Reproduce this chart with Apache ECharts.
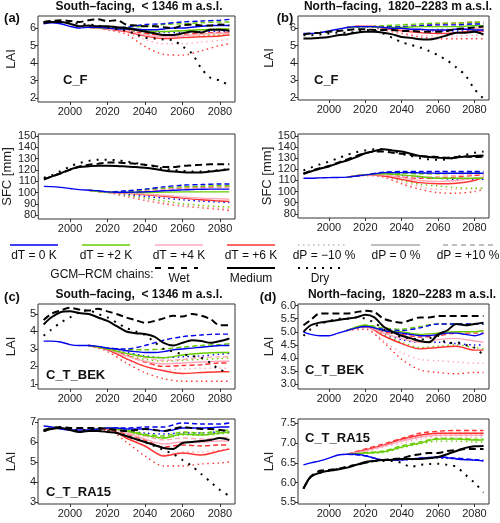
<!DOCTYPE html>
<html><head><meta charset="utf-8">
<script src="https://cdn.jsdelivr.net/npm/echarts@6/dist/echarts.min.js"></script>
<style>html,body{margin:0;padding:0;background:#fff}#c{width:500px;height:523px}</style>
</head><body><div id="c"></div>
<script>
// years
const years = [1986,1990,1995,2000,2005,2010,2015,2020,2025,2030,2035,2040,2045,2050,2055,2060,2065,2070,2075,2080,2085];
const futYears = [2010,2020,2030,2040,2050,2060,2070,2080,2085];
const xTicks = [2000,2020,2040,2060,2080];

// ---- panel a, LAI (C_F, south)
const a1_wet = [6.35,6.4,6.45,6.4,6.35,6.45,6.5,6.4,6.45,6.2,6.15,6.1,6.1,6.05,6.0,6.15,6.2,6.15,6.15,6.2,6.15];
const a1_med = [6.3,6.35,6.35,6.25,6.1,6.15,6.1,6.1,6.05,6.0,5.9,5.8,5.7,5.6,5.6,5.7,5.8,5.75,5.9,5.9,5.85];
const a1_dry = [6.3,6.35,6.35,6.3,6.25,6.2,6.15,6.05,5.95,5.85,5.65,5.45,5.4,5.35,5.3,4.95,4.55,3.7,3.15,3.0,2.7];
const a1_T0P0 = [6.25,6.3,6.25,6.1,6.0,6.05,6.05,6.0,5.95,5.95,5.95,5.9,5.9,5.95,6.0,6.0,6.05,6.1,6.15,6.15,6.15];
const a1_T0Pp = [6.05,6.0,6.05,6.2,6.25,6.35,6.4,6.45,6.5];
const a1_T0Pm = [6.05,6.0,5.9,5.8,5.75,5.75,5.8,5.8,5.8];
const a1_T2P0 = [6.05,6.0,5.95,5.85,5.8,5.85,5.9,5.95,5.95];
const a1_T2Pp = [6.05,6.0,6.05,6.1,6.2,6.25,6.3,6.35,6.35];
const a1_T2Pm = [6.05,6.0,5.85,5.65,5.6,5.55,5.6,5.6,5.6];
const a1_T4P0 = [6.05,5.95,5.85,5.6,5.5,5.55,5.65,5.7,5.7];
const a1_T4Pp = [6.05,6.0,5.95,5.8,5.8,5.85,5.9,5.95,5.95];
const a1_T4Pm = [6.05,5.95,5.75,5.35,5.1,5.1,5.2,5.3,5.35];
const a1_T6P0 = [6.05,5.95,5.8,5.55,5.4,5.45,5.5,5.55,5.6];
const a1_T6Pp = [6.05,5.95,5.85,5.7,5.6,5.65,5.7,5.75,5.75];
const a1_T6Pm = [6.05,5.9,5.65,4.95,4.5,4.45,4.7,5.0,5.1];

// ---- panel a, SFC
const a2_wet = [112,114,117,120,123,124.5,125.5,126.5,126.5,126,125.5,124.5,123.5,122.5,122.5,123.5,124,124.5,125,125,125];
const a2_med = [111.5,114,117,120.5,122.5,123.2,123.7,123.7,123.5,123,122.5,121.8,120.8,119.5,118.5,118,117.8,117.8,118.5,119.5,120.5];
const a2_dry = [113,115,119,123,126,128,129,129,128.5,127.5,126,124.5,123,121,120,119,118.5,118.5,119,120,120.5];
const a2_T0P0 = [105.4,105.2,104.5,103.5,102.5,102,101.5,100.5,100.2,100.2,100.3,100.6,101,101.5,102,102.3,102.6,102.8,103,103,103];
const a2_T0Pp = [102,100.5,101.5,103,105,106.5,107,107.5,107.5];
const a2_T0Pm = [102,100.3,98.5,96.5,95,93.5,92.3,91.5,91];
const a2_T2P0 = [102,100.3,100,100,100.3,100.5,100.5,100.5,100.5];
const a2_T2Pp = [102,100.4,101,102.5,104,105,105.5,106,106];
const a2_T2Pm = [102,100,97.5,95,92.5,90,88.5,87.5,87];
const a2_T4P0 = [102,100.2,99.5,98.5,97.5,96,95,94.5,94];
const a2_T4Pp = [102,100.3,100.5,101.5,103,104.5,105,105.5,105.5];
const a2_T4Pm = [102,100,97,93.5,91,88.5,87,86,85.5];
const a2_T6P0 = [102,100.2,99.3,98,96.5,95,93.5,92.5,92];
const a2_T6Pp = [102,100.3,100.5,101.5,103,104,104.5,105,105];
const a2_T6Pm = [102,100,96.5,93,90,88,86.5,85,84];

// ---- panel b, LAI (C_F, north)
const b1_wet = [5.65,5.7,5.75,5.8,5.85,5.9,5.95,5.95,5.9,5.9,5.9,5.85,5.85,5.8,5.8,5.8,5.85,5.95,6.0,6.05,6.1];
const b1_med = [5.42,5.42,5.45,5.5,5.6,5.65,5.75,5.8,5.8,5.75,5.65,5.5,5.45,5.37,5.35,5.45,5.6,5.75,5.75,5.8,5.65];
const b1_dry = [5.6,5.6,5.65,5.7,5.75,5.75,5.8,5.9,5.85,5.7,5.45,5.2,5.05,4.9,4.7,4.45,4.15,3.75,3.3,2.5,1.95];
const b1_T0P0 = [5.7,5.7,5.75,5.85,5.95,6.05,6.1,6.1,6.1,6.05,6.0,6.0,5.95,5.95,5.9,5.9,5.9,5.95,5.95,5.9,5.9];
const b1_T0Pp = [6.05,6.1,6.1,6.1,6.15,6.2,6.2,6.25,6.25];
const b1_T0Pm = [6.05,6.1,6.0,5.95,5.9,5.85,5.85,5.85,5.85];
const b1_T2P0 = [6.05,6.1,6.05,6.05,6.1,6.1,6.1,6.15,6.15];
const b1_T2Pp = [6.05,6.1,6.15,6.2,6.25,6.3,6.3,6.35,6.35];
const b1_T2Pm = [6.05,6.1,6.0,5.95,5.9,5.95,5.95,5.95,5.95];
const b1_T4P0 = [6.05,6.15,6.05,5.95,5.9,5.9,5.95,6.0,6.0];
const b1_T4Pp = [6.05,6.15,6.1,6.1,6.15,6.2,6.25,6.3,6.3];
const b1_T4Pm = [6.05,6.1,5.95,5.75,5.6,5.55,5.55,5.6,5.6];
const b1_T6P0 = [6.05,6.15,6.0,5.85,5.75,5.7,5.75,5.85,5.85];
const b1_T6Pp = [6.05,6.15,6.1,6.1,6.15,6.25,6.3,6.35,6.35];
const b1_T6Pm = [6.05,6.1,5.9,5.7,5.5,5.4,5.4,5.4,5.4];

// ---- panel b, SFC
const b2_wet = [116,118.5,121,123,126,129,132,134.5,136,136,135,134,133,132,131.5,131,130.5,131,131.5,131,131.5];
const b2_med = [116,118,120.5,122.6,125.5,128,131,134.5,136.5,138,137,136,134,132,131,130.5,130,130.5,131.5,132,132.5];
const b2_dry = [119,121.5,124.5,127,130,133,135.5,137,138,138,136.5,134,132,130,129,128.5,129,131,133,135,136];
const b2_T0P0 = [112,112,112.3,112.5,112.7,113,114,115,116,117,117,117,117,116.8,116.7,116.5,116.5,116.5,116.5,116.5,116.5];
const b2_T0Pp = [113,115,117.5,118,118,118,118,118,118];
const b2_T0Pm = [113,115,116,114.5,113,112,111,111,111];
const b2_T2P0 = [113,115,116,115,113.5,112,112,112,112];
const b2_T2Pp = [113,115,116.5,116.5,116,116,116.5,117,117];
const b2_T2Pm = [113,115,114.5,110,106.5,105,103.5,103,103];
const b2_T4P0 = [113,115,115,112.5,110,109,110,112,113];
const b2_T4Pp = [113,115,115.5,114.5,113,113.5,114.5,115.5,116];
const b2_T4Pm = [113,114.5,113.5,108.5,104.5,102,102,102.5,103];
const b2_T6P0 = [113,115,114,111,108,107,107.5,110,113];
const b2_T6Pp = [113,115,115,113,112,112,113,114.5,115];
const b2_T6Pm = [113,114.5,113,107,102,99,98.5,100,102];

// ---- panel c, C_T_BEK
const c1_wet = [4.65,5.0,5.2,5.35,5.25,5.2,5.3,5.15,5.0,4.8,4.65,4.5,4.6,4.75,4.9,4.85,5.0,4.9,4.7,4.35,4.35];
const c1_med = [4.4,4.8,5.1,5.15,5.05,5.0,4.8,4.6,4.3,4.0,3.9,3.85,3.7,3.35,3.2,3.35,3.5,3.45,3.35,3.45,3.6];
const c1_dry = [3.75,4.1,4.5,4.8,5.1,5.2,5.0,4.8,4.5,4.2,4.0,3.8,3.4,3.0,2.85,2.7,2.6,2.5,2.2,1.8,1.7];
const c1_T0P0 = [3.45,3.45,3.4,3.25,3.2,3.2,3.15,3.05,3.0,2.9,2.85,2.8,2.8,2.85,2.95,3.0,3.05,3.1,3.15,3.2,3.2];
const c1_T0Pp = [3.2,3.05,3.0,3.2,3.5,3.7,3.8,3.85,3.85];
const c1_T0Pm = [3.2,3.0,2.8,2.6,2.5,2.55,2.6,2.7,2.75];
const c1_T2P0 = [3.2,3.0,2.75,2.55,2.5,2.65,2.75,2.8,2.8];
const c1_T2Pp = [3.2,3.05,2.95,2.95,3.0,3.1,3.2,3.25,3.3];
const c1_T2Pm = [3.2,3.0,2.65,2.4,2.3,2.35,2.4,2.45,2.5];
const c1_T4P0 = [3.2,3.0,2.6,2.3,2.15,2.2,2.25,2.3,2.3];
const c1_T4Pp = [3.2,3.0,2.75,2.5,2.35,2.4,2.5,2.55,2.55];
const c1_T4Pm = [3.2,2.9,2.4,2.0,1.8,1.85,1.9,1.9,1.9];
const c1_T6P0 = [3.2,2.95,2.45,2.0,1.75,1.6,1.65,1.7,1.7];
const c1_T6Pp = [3.2,3.0,2.65,2.25,2.0,2.05,2.1,2.2,2.2];
const c1_T6Pm = [3.2,2.85,2.2,1.65,1.3,1.15,1.15,1.15,1.15];

// ---- panel c, C_T_RA15
const c2_wet = [6.6,6.7,6.75,6.7,6.7,6.7,6.7,6.65,6.6,6.55,6.6,6.65,6.6,6.55,6.65,6.75,6.7,6.65,6.65,6.6,6.55];
const c2_med = [6.53,6.65,6.7,6.6,6.5,6.55,6.55,6.5,6.45,6.3,6.15,6.0,5.85,5.7,5.65,5.95,6.0,6.05,6.1,6.2,6.1];
const c2_dry = [6.55,6.65,6.7,6.65,6.6,6.6,6.6,6.55,6.45,6.3,6.15,6.0,5.8,5.6,5.4,5.1,4.8,4.4,4.0,3.6,3.3];
const c2_T0P0 = [6.8,6.75,6.65,6.6,6.6,6.6,6.65,6.7,6.7,6.65,6.65,6.65,6.6,6.55,6.6,6.7,6.7,6.7,6.72,6.75,6.75];
const c2_T0Pp = [6.6,6.7,6.7,6.75,6.75,6.95,6.9,6.9,6.95];
const c2_T0Pm = [6.6,6.7,6.55,6.45,6.4,6.45,6.45,6.5,6.5];
const c2_T2P0 = [6.6,6.7,6.55,6.35,6.2,6.4,6.35,6.45,6.5];
const c2_T2Pp = [6.6,6.7,6.6,6.4,6.3,6.5,6.45,6.55,6.6];
const c2_T2Pm = [6.6,6.7,6.5,6.3,6.2,6.35,6.35,6.4,6.45];
const c2_T4P0 = [6.6,6.7,6.45,6.15,5.9,6.0,6.0,6.05,6.05];
const c2_T4Pp = [6.6,6.7,6.5,6.3,6.1,6.2,6.15,6.2,6.25];
const c2_T4Pm = [6.6,6.65,6.3,5.8,5.35,5.5,5.5,5.6,5.65];
const c2_T6P0 = [6.6,6.65,6.2,5.8,5.3,5.45,5.35,5.55,5.65];
const c2_T6Pp = [6.6,6.7,6.4,6.1,5.75,5.85,5.8,5.85,5.85];
const c2_T6Pm = [6.6,6.6,6.0,5.3,4.8,4.8,4.9,4.95,5.0];

// ---- panel d, C_T_BEK
const d1_wet = [5.25,5.45,5.7,5.7,5.7,5.7,5.75,5.8,5.75,5.5,5.4,5.35,5.45,5.55,5.55,5.6,5.6,5.6,5.6,5.6,5.6];
const d1_med = [5.0,5.25,5.35,5.4,5.45,5.5,5.55,5.65,5.55,5.2,5.0,4.85,4.75,4.65,4.6,4.9,5.05,5.3,5.25,5.3,5.35];
const d1_dry = [4.85,5.1,5.3,5.4,5.5,5.5,5.55,5.5,5.35,5.1,4.95,4.8,4.75,4.7,4.75,4.85,4.55,4.6,4.5,4.4,4.1];
const d1_T0P0 = [5.0,4.9,4.85,4.85,4.95,5.05,5.15,5.2,5.15,5.05,5.0,4.95,4.9,4.85,4.85,4.9,4.95,4.95,4.9,4.85,4.95];
const d1_T0Pp = [5.05,5.2,5.1,5.05,5.15,5.3,5.3,5.3,5.3];
const d1_T0Pm = [5.05,5.2,4.95,4.7,4.6,4.6,4.55,4.5,4.5];
const d1_T2P0 = [5.05,5.25,5.05,5.0,4.9,4.95,5.0,5.0,5.05];
const d1_T2Pp = [5.05,5.25,5.15,5.1,5.2,5.3,5.3,5.3,5.3];
const d1_T2Pm = [5.05,5.2,4.9,4.6,4.4,4.45,4.5,4.4,4.35];
const d1_T4P0 = [5.05,5.2,4.95,4.75,4.6,4.7,4.75,4.65,4.6];
const d1_T4Pp = [5.05,5.25,5.05,4.95,4.85,4.95,5.0,5.0,5.0];
const d1_T4Pm = [5.05,5.15,4.65,4.2,3.95,3.9,3.85,3.8,3.8];
const d1_T6P0 = [5.05,5.2,4.85,4.55,4.35,4.4,4.45,4.3,4.3];
const d1_T6Pp = [5.05,5.2,5.0,4.9,4.8,4.85,4.95,4.95,4.95];
const d1_T6Pm = [5.05,5.1,4.6,3.95,3.55,3.45,3.4,3.45,3.45];

// ---- panel d, C_T_RA15
const d2_wet = [5.85,6.15,6.3,6.32,6.35,6.4,6.45,6.5,6.55,6.57,6.6,6.62,6.68,6.72,6.75,6.75,6.8,6.82,6.85,6.85,6.85];
const d2_med = [5.85,6.15,6.25,6.3,6.33,6.38,6.45,6.52,6.55,6.57,6.58,6.6,6.6,6.6,6.62,6.65,6.72,6.8,6.88,6.92,6.93];
const d2_dry = [5.85,6.15,6.25,6.3,6.35,6.4,6.45,6.5,6.55,6.55,6.55,6.5,6.4,6.45,6.47,6.48,6.45,6.4,6.2,6.0,5.75];
const d2_T0P0 = [6.45,6.5,6.55,6.62,6.7,6.72,6.72,6.68,6.62,6.57,6.57,6.58,6.6,6.62,6.63,6.65,6.63,6.6,6.58,6.57,6.55];
const d2_T0Pp = [6.72,6.68,6.58,6.58,6.62,6.65,6.62,6.58,6.57];
const d2_T0Pm = [6.72,6.68,6.57,6.57,6.6,6.62,6.6,6.57,6.55];
const d2_T2P0 = [6.72,6.75,6.78,6.9,7.0,7.1,7.1,7.08,7.08];
const d2_T2Pp = [6.72,6.76,6.8,6.93,7.03,7.12,7.12,7.1,7.1];
const d2_T2Pm = [6.72,6.74,6.76,6.88,6.98,7.05,7.05,7.03,7.03];
const d2_T4P0 = [6.72,6.8,6.92,7.05,7.15,7.2,7.2,7.2,7.2];
const d2_T4Pp = [6.72,6.82,6.95,7.08,7.2,7.25,7.25,7.25,7.25];
const d2_T4Pm = [6.72,6.78,6.9,7.0,7.1,7.15,7.15,7.15,7.15];
const d2_T6P0 = [6.72,6.83,6.95,7.1,7.2,7.25,7.25,7.25,7.25];
const d2_T6Pp = [6.72,6.85,6.98,7.12,7.25,7.3,7.32,7.32,7.32];
const d2_T6Pm = [6.72,6.82,6.93,7.08,7.15,7.2,7.2,7.2,7.2];

// y tick labels
const ticksA1 = [2,3,4,5,6];
const ticksSFC = [80,90,100,110,120,130,140,150];
const ticksC1 = [1,2,3,4,5];
const ticksC2 = [3,4,5,6,7];
const ticksD1 = [3.0,3.5,4.0,4.5,5.0,5.5,6.0];
const ticksD2 = [5.5,6.0,6.5,7.0,7.5];

const FONT = 'Liberation Sans, Arial, sans-serif';
const COL = {T0:'#0000ee', T2:'#66cc00', T4:'#ffaabb', T6:'#ff3333'};

const panels = [
  {g:[38,16,197,86], y:[1.77,6.69], ticks:ticksA1, name:'LAI', gap:20, fmt:null,
   wet:a1_wet, med:a1_med, dry:a1_dry, T0P0:a1_T0P0,
   fut:{T0Pp:a1_T0Pp,T0Pm:a1_T0Pm,T2P0:a1_T2P0,T2Pp:a1_T2Pp,T2Pm:a1_T2Pm,T4P0:a1_T4P0,T4Pp:a1_T4Pp,T4Pm:a1_T4Pm,T6P0:a1_T6P0,T6Pp:a1_T6Pp,T6Pm:a1_T6Pm}},
  {g:[38,134,197,85], y:[76.5,151.8], ticks:ticksSFC, name:'SFC [mm]', gap:24, fmt:null,
   wet:a2_wet, med:a2_med, dry:a2_dry, T0P0:a2_T0P0,
   fut:{T0Pp:a2_T0Pp,T0Pm:a2_T0Pm,T2P0:a2_T2P0,T2Pp:a2_T2Pp,T2Pm:a2_T2Pm,T4P0:a2_T4P0,T4Pp:a2_T4Pp,T4Pm:a2_T4Pm,T6P0:a2_T6P0,T6Pp:a2_T6Pp,T6Pm:a2_T6Pm}},
  {g:[298,16,191,84], y:[1.87,6.71], ticks:ticksA1, name:'LAI', gap:22, fmt:null,
   wet:b1_wet, med:b1_med, dry:b1_dry, T0P0:b1_T0P0,
   fut:{T0Pp:b1_T0Pp,T0Pm:b1_T0Pm,T2P0:b1_T2P0,T2Pp:b1_T2Pp,T2Pm:b1_T2Pm,T4P0:b1_T4P0,T4Pp:b1_T4Pp,T4Pm:b1_T4Pm,T6P0:b1_T6P0,T6Pp:b1_T6Pp,T6Pm:b1_T6Pm}},
  {g:[298,134,191,84], y:[76.2,151.8], ticks:ticksSFC, name:'SFC [mm]', gap:24, fmt:null,
   wet:b2_wet, med:b2_med, dry:b2_dry, T0P0:b2_T0P0,
   fut:{T0Pp:b2_T0Pp,T0Pm:b2_T0Pm,T2P0:b2_T2P0,T2Pp:b2_T2Pp,T2Pm:b2_T2Pm,T4P0:b2_T4P0,T4Pp:b2_T4Pp,T4Pm:b2_T4Pm,T6P0:b2_T6P0,T6Pp:b2_T6Pp,T6Pm:b2_T6Pm}},
  {g:[38,304,197,85], y:[0.71,5.57], ticks:ticksC1, name:'LAI', gap:20, fmt:null,
   wet:c1_wet, med:c1_med, dry:c1_dry, T0P0:c1_T0P0,
   fut:{T0Pp:c1_T0Pp,T0Pm:c1_T0Pm,T2P0:c1_T2P0,T2Pp:c1_T2Pp,T2Pm:c1_T2Pm,T4P0:c1_T4P0,T4Pp:c1_T4Pp,T4Pm:c1_T4Pm,T6P0:c1_T6P0,T6Pp:c1_T6Pp,T6Pm:c1_T6Pm}},
  {g:[38,419,197,85], y:[2.9,7.15], ticks:ticksC2, name:'LAI', gap:20, fmt:null,
   wet:c2_wet, med:c2_med, dry:c2_dry, T0P0:c2_T0P0,
   fut:{T0Pp:c2_T0Pp,T0Pm:c2_T0Pm,T2P0:c2_T2P0,T2Pp:c2_T2Pp,T2Pm:c2_T2Pm,T4P0:c2_T4P0,T4Pp:c2_T4Pp,T4Pm:c2_T4Pm,T6P0:c2_T6P0,T6Pp:c2_T6Pp,T6Pm:c2_T6Pm}},
  {g:[298,304,191,85], y:[2.82,6.06], ticks:ticksD1, name:'LAI', gap:22, fmt:1,
   wet:d1_wet, med:d1_med, dry:d1_dry, T0P0:d1_T0P0,
   fut:{T0Pp:d1_T0Pp,T0Pm:d1_T0Pm,T2P0:d1_T2P0,T2Pp:d1_T2Pp,T2Pm:d1_T2Pm,T4P0:d1_T4P0,T4Pp:d1_T4Pp,T4Pm:d1_T4Pm,T6P0:d1_T6P0,T6Pp:d1_T6Pp,T6Pm:d1_T6Pm}},
  {g:[298,419,191,85], y:[5.46,7.61], ticks:ticksD2, name:'LAI', gap:22, fmt:1,
   wet:d2_wet, med:d2_med, dry:d2_dry, T0P0:d2_T0P0,
   fut:{T0Pp:d2_T0Pp,T0Pm:d2_T0Pm,T2P0:d2_T2P0,T2Pp:d2_T2Pp,T2Pm:d2_T2Pm,T4P0:d2_T4P0,T4Pp:d2_T4Pp,T4Pm:d2_T4Pm,T6P0:d2_T6P0,T6Pp:d2_T6Pp,T6Pm:d2_T6Pm}}
];

const grid = [], xAxis = [], yAxis = [], series = [];
const pair = (xs, vs) => xs.map((x, i) => [x, vs[i]]);
const styleFor = (p, color, black) => {
  if (p === 'P0') return {color, width: black ? 2 : 1.4, type:'solid'};
  if (p === 'Pp') return {color, width: black ? 2 : 1.4, type: black ? [7,4] : [5,3]};
  return {color, width: black ? 2 : 1.4, type: black ? [2,6] : [1.5,3.5], cap:'butt'};
};
panels.forEach((P, i) => {
  grid.push({left:P.g[0], top:P.g[1], width:P.g[2], height:P.g[3], show:true, borderColor:'#333', borderWidth:1, backgroundColor:'transparent'});
  xAxis.push({type:'value', gridIndex:i, min:1983, max:2088,
    axisLine:{show:false}, splitLine:{show:false},
    axisTick:{show:true, length:3, lineStyle:{color:'#333'}, customValues:xTicks},
    axisLabel:{fontSize:11, color:'#222', margin:4, fontFamily:FONT, customValues:xTicks, formatter: v => String(Math.round(v))}});
  yAxis.push({type:'value', gridIndex:i, min:P.y[0], max:P.y[1],
    name:P.name, nameLocation:'middle', nameGap:P.gap, nameRotate:90,
    nameTextStyle:{fontSize:13, color:'#222', fontFamily:FONT},
    axisLine:{show:false}, splitLine:{show:false},
    axisTick:{show:true, length:3, lineStyle:{color:'#333'}, customValues:P.ticks},
    axisLabel:{fontSize:11, color:'#222', margin:2, fontFamily:FONT, customValues:P.ticks,
      formatter: P.fmt ? (v => Number(v).toFixed(1)) : (v => String(Math.round(v)))}});
  const order = ['T6','T4','T2','T0'];
  ['Pm','Pp','P0'].forEach(p => {
    order.forEach(t => {
      const key = t + p;
      if (key === 'T0P0') return;
      series.push({type:'line', xAxisIndex:i, yAxisIndex:i, data:pair(futYears, P.fut[key]),
        showSymbol:false, symbol:'none', smooth:0.3, silent:true, lineStyle:styleFor(p, COL[t], false), z:2});
    });
  });
  series.push({type:'line', xAxisIndex:i, yAxisIndex:i, data:pair(years, P.T0P0), showSymbol:false, symbol:'none', smooth:0.3, silent:true, lineStyle:styleFor('P0', COL.T0, false), z:3});
  series.push({type:'line', xAxisIndex:i, yAxisIndex:i, data:pair(years, P.dry), showSymbol:false, symbol:'none', smooth:0.3, silent:true, lineStyle:styleFor('Pm', '#000', true), z:4});
  series.push({type:'line', xAxisIndex:i, yAxisIndex:i, data:pair(years, P.wet), showSymbol:false, symbol:'none', smooth:0.3, silent:true, lineStyle:styleFor('Pp', '#000', true), z:4});
  series.push({type:'line', xAxisIndex:i, yAxisIndex:i, data:pair(years, P.med), showSymbol:false, symbol:'none', smooth:0.3, silent:true, lineStyle:styleFor('P0', '#000', true), z:4});
});

const txt = (text, x, y, opt) => Object.assign({type:'text', silent:true, style:Object.assign({text, x, y, fill:'#111', font:'12px ' + FONT, textAlign:'center', textVerticalAlign:'middle'}, opt || {})});
const ln = (x1, x2, y, color, type, width) => ({type:'line', silent:true, shape:{x1, y1:y, x2, y2:y}, style:{stroke:color, lineWidth:width || 1.5, lineDash: type, lineCap:'butt'}});

const graphic = [
  txt('South\u2013facing,  < 1346 m a.s.l.', 139, 7, {font:'bold 12px ' + FONT}),
  txt('North\u2013facing,  1820\u20132283 m a.s.l.', 398, 7, {font:'bold 12px ' + FONT}),
  txt('South\u2013facing,  < 1346 m a.s.l.', 139, 295, {font:'bold 12px ' + FONT}),
  txt('North\u2013facing,  1820\u20132283 m a.s.l.', 402, 295, {font:'bold 12px ' + FONT}),
  txt('(a)', 12, 18, {font:'bold 13px ' + FONT}),
  txt('(b)', 285, 18, {font:'bold 13px ' + FONT}),
  txt('(c)', 12, 297, {font:'bold 13px ' + FONT}),
  txt('(d)', 268, 297, {font:'bold 13px ' + FONT}),
  txt('C_F', 63, 80, {font:'bold 13px ' + FONT, textAlign:'left'}),
  txt('C_F', 314, 80, {font:'bold 13px ' + FONT, textAlign:'left'}),
  txt('C_T_BEK', 46, 375, {font:'bold 13px ' + FONT, textAlign:'left'}),
  txt('C_T_RA15', 46, 492, {font:'bold 13px ' + FONT, textAlign:'left'}),
  txt('C_T_BEK', 305, 370, {font:'bold 13px ' + FONT, textAlign:'left'}),
  txt('C_T_RA15', 305, 438, {font:'bold 13px ' + FONT, textAlign:'left'}),
  // legend row 1
  ln(10, 58, 245, COL.T0, null), txt('dT = 0 K', 34, 256),
  ln(82, 130, 245, COL.T2, null), txt('dT = +2 K', 106, 256),
  ln(155, 203, 245, COL.T4, null), txt('dT = +4 K', 179, 256),
  ln(227, 275, 245, COL.T6, null), txt('dT = +6 K', 251, 256),
  ln(298, 347, 245, '#bbb', [1.5,3.5]), txt('dP = \u221210 %', 324, 256),
  ln(371, 420, 245, '#aaa', null), txt('dP = 0 %', 396, 256),
  ln(443, 493, 245, '#aaa', [5,4]), txt('dP = +10 %', 468, 256),
  // legend row 2
  txt('GCM\u2013RCM chains:', 102, 275),
  ln(155, 198, 268, '#000', [6,7], 2), txt('Wet', 179, 279),
  ln(227, 275, 268, '#000', null, 2), txt('Medium', 251, 279),
  ln(298, 344, 268, '#000', [2,6], 2), txt('Dry', 320, 279)
];

const chart = echarts.init(document.getElementById('c'), null, {renderer:'canvas'});
chart.setOption({animation:false, backgroundColor:'#fff', textStyle:{fontFamily:FONT}, grid, xAxis, yAxis, series, graphic});
</script></body></html>
